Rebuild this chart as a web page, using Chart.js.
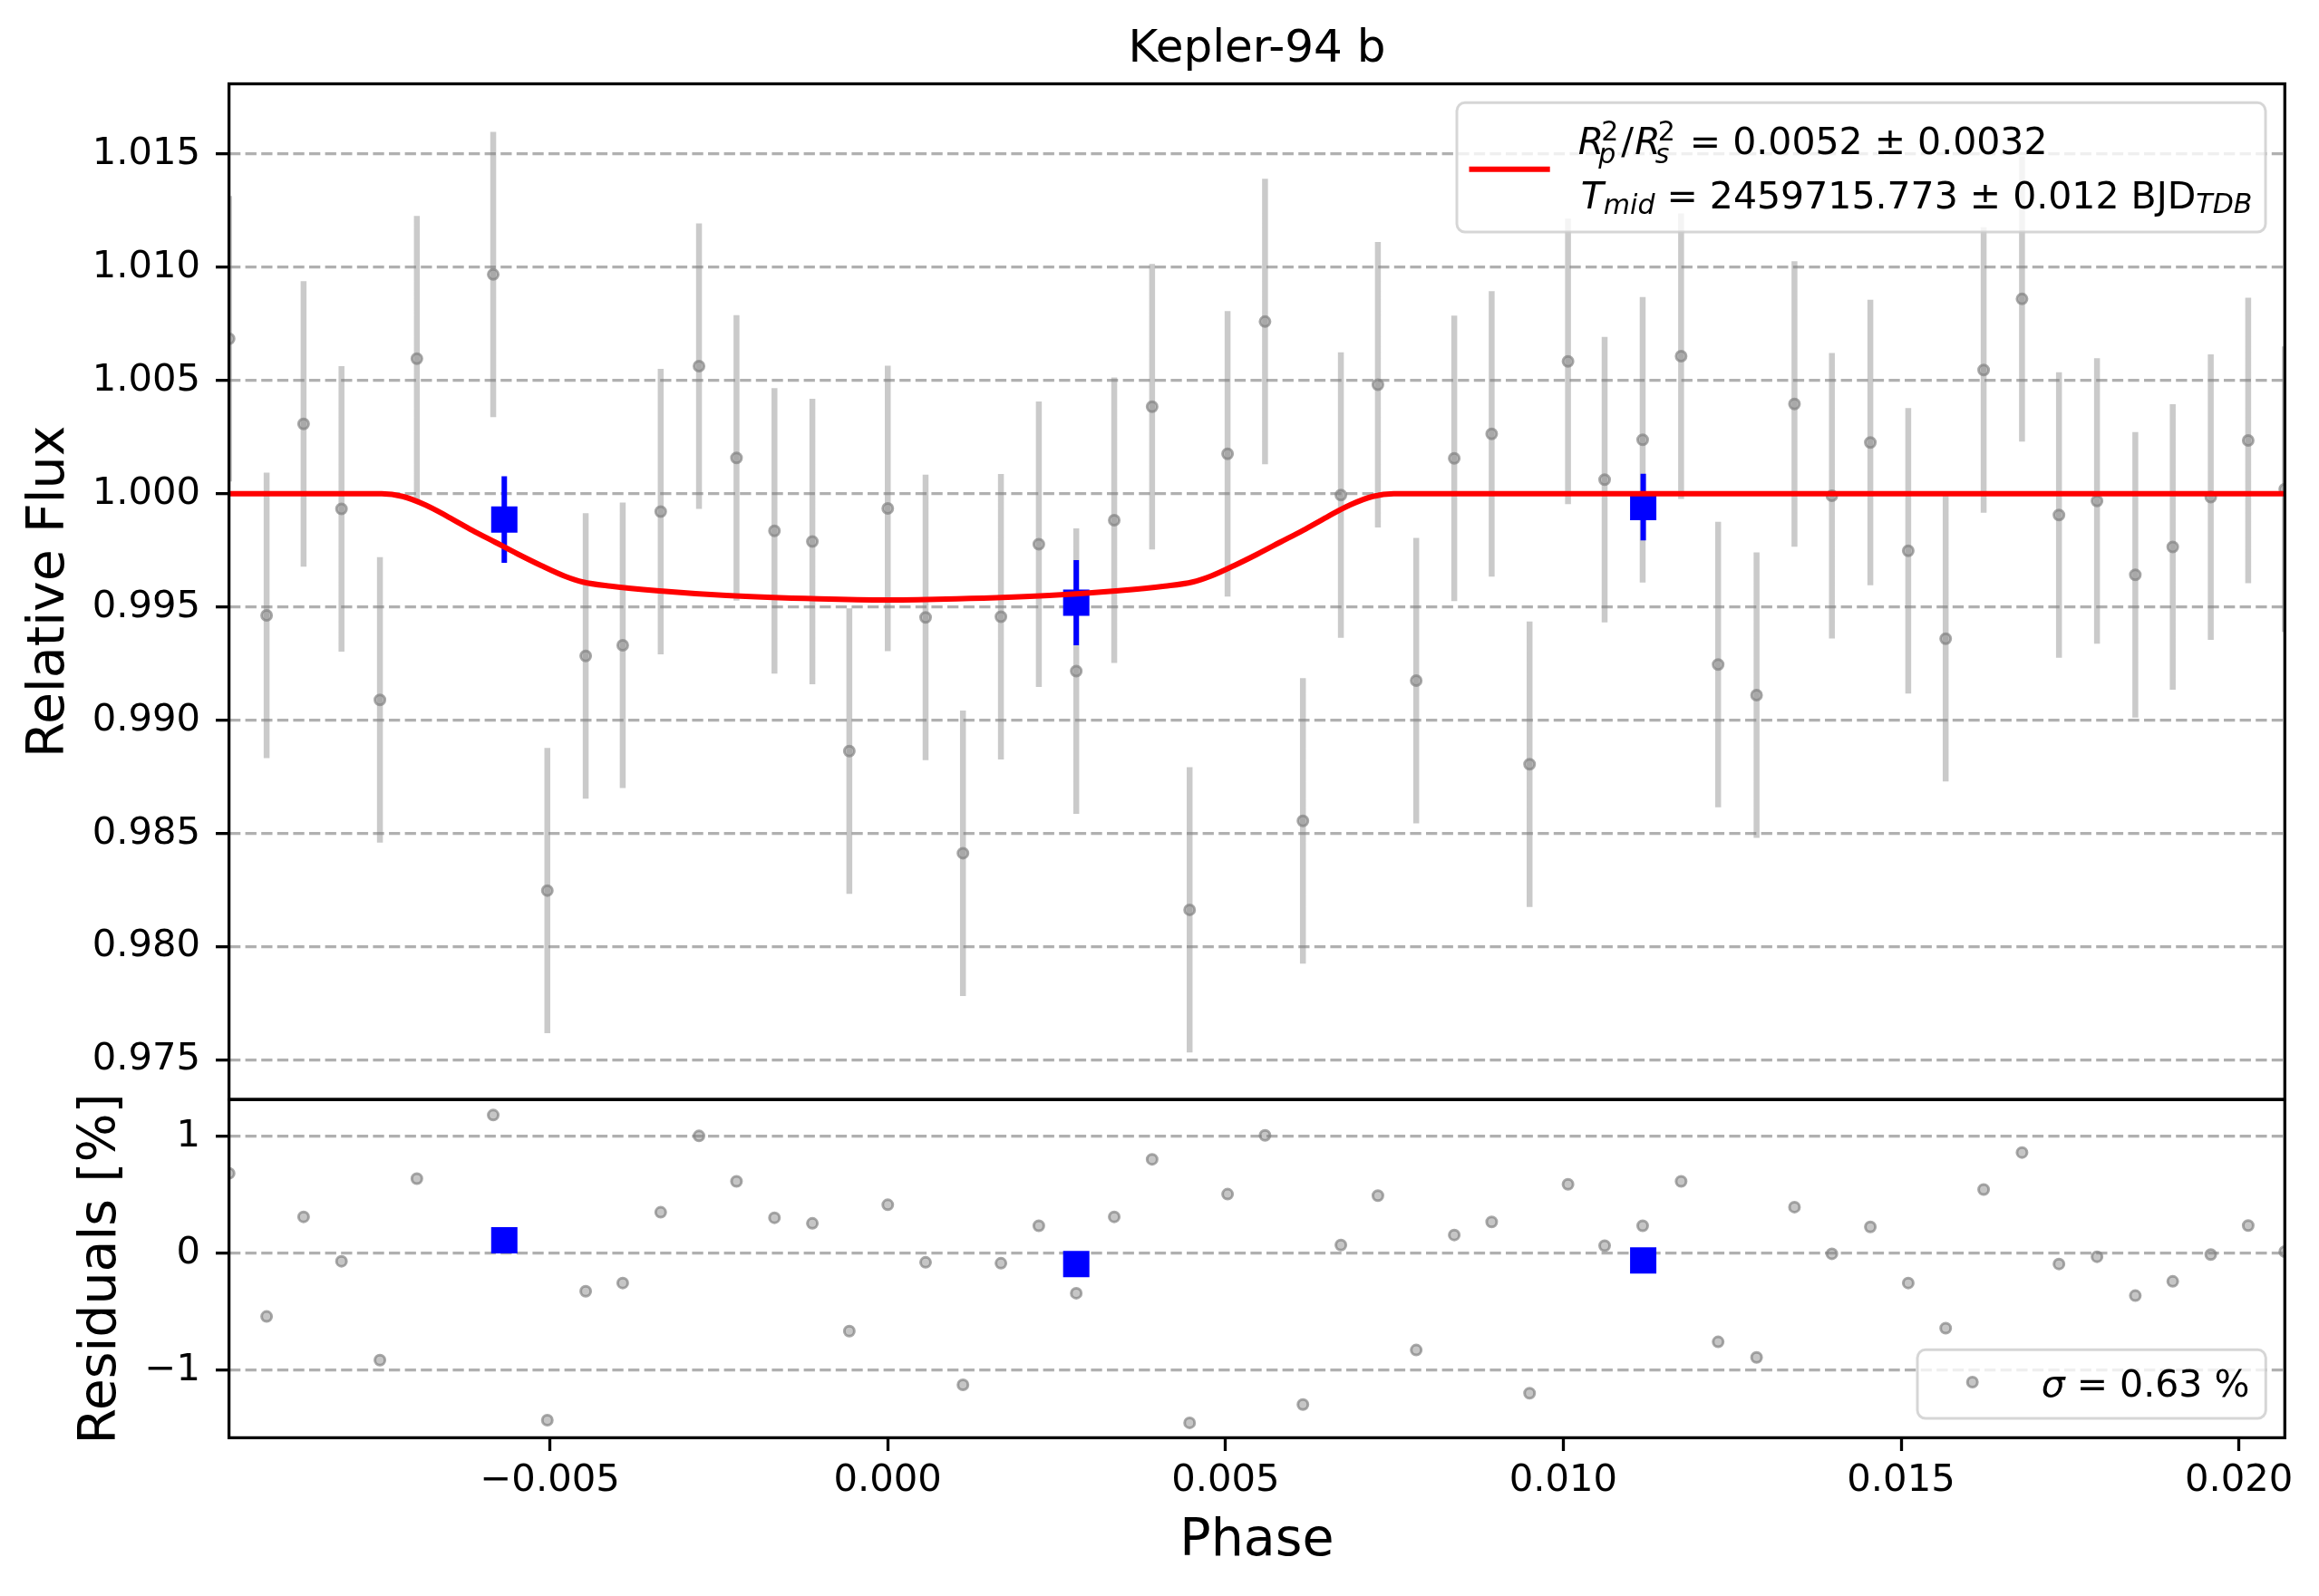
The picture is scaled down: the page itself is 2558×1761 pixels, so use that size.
<html lang="en">

<head>
    <meta charset="UTF-8">
    <title>Kepler-94 b</title>
    <script src="https://cdn.jsdelivr.net/npm/chart.js"></script>
    <style>
        body { margin: 0; background: #fff; }
        #wrap { position: relative; width: 2558px; height: 1761px; }
        .layer { position: absolute; left: 0; top: 0; width: 2558px; height: 1761px; }
    </style>
</head>

<body>
    <div id="wrap">
        <div class="layer"><canvas id="resChart"></canvas></div>
        <div class="layer"><canvas id="fluxChart"></canvas></div>
    </div>
    <script>
        // unbinned points
        const phase = [-0.009748, -0.009193, -0.008646, -0.008085, -0.007516, -0.006969, -0.005839, -0.005038, -0.004470, -0.003922,
            -0.003360, -0.002793, -0.002238, -0.001676, -0.001115, -0.000568, 0.000001, 0.000561, 0.001114, 0.001676,
            0.002237, 0.002791, 0.003353, 0.003914, 0.004469, 0.005031, 0.005585, 0.006146, 0.006708, 0.007256,
            0.007823, 0.008386, 0.008940, 0.009501, 0.010070, 0.010612, 0.011175, 0.011744, 0.012292, 0.012861,
            0.013422, 0.013976, 0.014545, 0.015106, 0.015660, 0.016222, 0.016790, 0.017337, 0.017900, 0.018467,
            0.019021, 0.019584, 0.020138, 0.020679];
        const flux = [1.00684, 0.99463, 1.00308, 0.99933, 0.99090, 1.00596, 1.00968, 0.98248, 0.99284, 0.99331,
            0.99921, 1.00563, 1.00158, 0.99836, 0.99789, 0.98864, 0.99935, 0.99454, 0.98413, 0.99457,
            0.99777, 0.99217, 0.99883, 1.00384, 0.98163, 1.00176, 1.00760, 0.98556, 0.99994, 1.00481,
            0.99175, 1.00156, 1.00264, 0.98806, 1.00584, 1.00062, 1.00238, 1.00607, 0.99246, 0.99111,
            1.00396, 0.99991, 1.00226, 0.99748, 0.99360, 1.00546, 1.00860, 0.99906, 0.99968, 0.99642,
            0.99765, 0.99985, 1.00235, 1.00020];
        const fluxErr = 0.0063;
        const residual = [0.683, -0.541, 0.311, -0.069, -0.914, 0.637, 1.181, -1.428, -0.325, -0.255,
            0.350, 1.003, 0.614, 0.303, 0.255, -0.666, 0.414, -0.078, -1.125, -0.086,
            0.234, -0.342, 0.311, 0.803, -1.450, 0.505, 1.008, -1.294, 0.070, 0.492,
            -0.828, 0.156, 0.267, -1.197, 0.589, 0.064, 0.234, 0.614, -0.758, -0.891,
            0.394, -0.005, 0.225, -0.255, -0.641, 0.545, 0.861, -0.092, -0.030, -0.363,
            -0.241, -0.011, 0.236, 0.014];

        // binned points (blue)
        const binPhase = [-0.005675, 0.002791, 0.011183];
        const binFlux = [0.99886, 0.99519, 0.99941];
        const binErr = [0.00191, 0.00188, 0.00147];
        const binResidual = [0.111, -0.092, -0.061];

        // transit model (red), sampled from the curve
        const modelPhase = [-0.00975, -0.00749, -0.00718, -0.00684, -0.00650, -0.00615, -0.00581, -0.00547, -0.00513, -0.00478,
            -0.00451, -0.00410, -0.00342, -0.00239, -0.00102, 0.00000, 0.00102, 0.00239, 0.00342, 0.00410,
            0.00451, 0.00478, 0.00513, 0.00547, 0.00581, 0.00615, 0.00650, 0.00684, 0.00718, 0.00749, 0.02068];
        const modelFlux = [1.00000, 1.00000, 0.99988, 0.99950, 0.99897, 0.99839, 0.99786, 0.99733, 0.99683, 0.99636,
            0.99610, 0.99592, 0.99572, 0.99551, 0.99536, 0.99531, 0.99536, 0.99551, 0.99572, 0.99592,
            0.99610, 0.99636, 0.99683, 0.99733, 0.99786, 0.99839, 0.99897, 0.99950, 0.99988, 1.00000, 1.00000];

        const phaseTicks = [-0.005, 0.000, 0.005, 0.010, 0.015, 0.020];
        const fluxTicks = [0.975, 0.980, 0.985, 0.990, 0.995, 1.000, 1.005, 1.010, 1.015];
        const resTicks = [-1, 0, 1];

        const X_MIN = -0.00975, X_MAX = 0.02068;
        const DOT_FILL = 'rgba(128,128,128,0.45)';
        const DOT_EDGE = 'rgba(128,128,128,0.68)';
        const DOT_R = 5.5, DOT_W = 3;
        const FONT = '"DejaVu Sans"';

        Chart.defaults.font.family = FONT + ', sans-serif';
        Chart.defaults.color = '#000';

        function points(xs, ys) {
            return xs.map((x, i) => ({ x: x, y: ys[i] }));
        }

        // vertical error bars as one broken line
        function errorSegments(xs, ys, errs) {
            const pts = [];
            xs.forEach((x, i) => {
                const e = Array.isArray(errs) ? errs[i] : errs;
                pts.push({ x: x, y: ys[i] - e }, { x: x, y: ys[i] + e }, { x: x, y: null });
            });
            return pts;
        }

        function minus(s) {
            return s.replace('-', '\u2212');
        }

        function fixedTicks(values) {
            return (scale) => { scale.ticks = values.map(v => ({ value: v })); };
        }

        const tickGrid = { color: '#b0b0b0', lineWidth: 3.3, tickColor: '#000', tickLength: 14.6, tickWidth: 3.3, tickBorderDash: [] };

        const framePlugin = {
            id: 'frame',
            afterDraw(chart) {
                const { ctx, chartArea: a } = chart;
                ctx.save();
                ctx.strokeStyle = '#000';
                ctx.lineWidth = 3.3;
                ctx.strokeRect(a.left, a.top, a.right - a.left, a.bottom - a.top);
                ctx.restore();
            }
        };

        function legendBox(ctx, x, y, w, h) {
            ctx.beginPath();
            ctx.roundRect(x, y, w, h, 9);
            ctx.fillStyle = 'rgba(255,255,255,0.8)';
            ctx.fill();
            ctx.lineWidth = 3;
            ctx.strokeStyle = 'rgba(204,204,204,0.8)';
            ctx.stroke();
        }

        // small mathtext-like writer: italics, sub and superscripts
        function drawMath(ctx, runs, x, y) {
            const big = 41, small = 30;
            runs.forEach(r => {
                if (r.sup !== undefined) {
                    ctx.font = small + 'px ' + FONT;
                    ctx.fillText(r.sup, x + 1, y - 15);
                    const w1 = ctx.measureText(r.sup).width;
                    ctx.font = 'italic ' + small + 'px ' + FONT;
                    ctx.fillText(r.sub, x - 2, y + 10);
                    const w2 = ctx.measureText(r.sub).width;
                    x += Math.max(w1 + 1, w2 - 2) + 3;
                } else {
                    const size = r.small ? small : big;
                    ctx.font = (r.it ? 'italic ' : '') + size + 'px ' + FONT;
                    ctx.fillText(r.t, x, y + (r.dy || 0));
                    x += ctx.measureText(r.t).width + (r.gap || 0);
                }
            });
        }

        const fluxLegend = {
            id: 'fluxLegend',
            afterDatasetsDraw(chart) {
                const ctx = chart.ctx;
                ctx.save();
                legendBox(ctx, 1607, 113.3, 892, 142.7);
                ctx.strokeStyle = '#ff0000';
                ctx.lineWidth = 6;
                ctx.beginPath();
                ctx.moveTo(1620.5, 186.7);
                ctx.lineTo(1709.7, 186.7);
                ctx.stroke();
                ctx.fillStyle = '#000';
                ctx.textBaseline = 'alphabetic';
                ctx.textAlign = 'left';
                drawMath(ctx, [
                    { t: 'R', it: true, gap: -4 }, { sup: '2', sub: 'p' }, { t: '/', gap: 1 },
                    { t: 'R', it: true, gap: -4 }, { sup: '2', sub: 's' }, { t: ' = 0.0052 \u00b1 0.0032' }
                ], 1740.8, 170);
                drawMath(ctx, [
                    { t: 'T', it: true }, { t: 'mid', it: true, small: true, dy: 6 },
                    { t: ' = 2459715.773 \u00b1 0.012 BJD' }, { t: 'TDB', it: true, small: true, dy: 5 }
                ], 1743.8, 230);
                ctx.restore();
            }
        };

        const resLegend = {
            id: 'resLegend',
            afterDatasetsDraw(chart) {
                const ctx = chart.ctx;
                ctx.save();
                legendBox(ctx, 2115, 1489.3, 384.3, 75.7);
                ctx.beginPath();
                ctx.arc(2175.7, 1525, DOT_R, 0, Math.PI * 2);
                ctx.fillStyle = DOT_FILL;
                ctx.fill();
                ctx.lineWidth = DOT_W;
                ctx.strokeStyle = DOT_EDGE;
                ctx.stroke();
                ctx.fillStyle = '#000';
                ctx.font = 'italic 41px ' + FONT;
                ctx.textBaseline = 'alphabetic';
                ctx.fillText('\u03c3', 2251.7, 1540.7);
                const w = ctx.measureText('\u03c3').width;
                ctx.font = '41px ' + FONT;
                ctx.fillText(' = 0.63 %', 2251.7 + w, 1540.7);
                ctx.restore();
            }
        };

        new Chart(document.getElementById('fluxChart'), {
            type: 'scatter',
            data: {
                datasets: [
                    {
                        label: 'model', data: points(modelPhase, modelFlux), showLine: true,
                        borderColor: '#ff0000', borderWidth: 6, pointRadius: 0, cubicInterpolationMode: 'monotone', order: 0
                    },
                    {
                        label: 'binned', data: points(binPhase, binFlux), pointStyle: 'rect', pointRadius: 20.5,
                        pointBackgroundColor: '#0000ff', pointBorderWidth: 0, order: 1
                    },
                    {
                        label: 'binned err', data: errorSegments(binPhase, binFlux, binErr), showLine: true,
                        borderColor: '#0000ff', borderWidth: 6, pointRadius: 0, order: 2
                    },
                    {
                        label: 'data', data: points(phase, flux), pointRadius: DOT_R, pointBorderWidth: DOT_W,
                        pointBackgroundColor: DOT_FILL, pointBorderColor: DOT_EDGE, order: 3
                    },
                    {
                        label: 'data err', data: errorSegments(phase, flux, fluxErr), showLine: true,
                        borderColor: 'rgba(128,128,128,0.42)', borderWidth: 6.5, pointRadius: 0, order: 4
                    }
                ]
            },
            options: {
                responsive: true,
                maintainAspectRatio: false,
                animation: false,
                events: [],
                layout: { padding: { left: 0, top: 0, right: 37.7, bottom: 547.8 } },
                plugins: {
                    legend: { display: false },
                    tooltip: { enabled: false },
                    title: {
                        display: true, text: 'Kepler-94 b', color: '#000', fullSize: false,
                        font: { size: 50, weight: 'normal' }, padding: { top: 25, bottom: 7.5 }
                    }
                },
                scales: {
                    x: { type: 'linear', display: false, min: X_MIN, max: X_MAX },
                    y: {
                        type: 'linear', min: 0.973256, max: 1.018096,
                        afterFit: (s) => { s.width = 252.6; },
                        afterBuildTicks: fixedTicks(fluxTicks),
                        ticks: { font: { size: 41.7 }, color: '#000', padding: 17, callback: (v) => v.toFixed(3) },
                        grid: tickGrid,
                        border: { display: false, dash: [12.3, 5.3] },
                        title: { display: true, text: 'Relative Flux', color: '#000', font: { size: 57 }, padding: { top: 20.6, bottom: 0 } }
                    }
                }
            },
            plugins: [framePlugin, fluxLegend]
        });

        new Chart(document.getElementById('resChart'), {
            type: 'scatter',
            data: {
                datasets: [
                    {
                        label: 'binned', data: points(binPhase, binResidual), pointStyle: 'rect', pointRadius: 20.5,
                        pointBackgroundColor: '#0000ff', pointBorderWidth: 0, order: 0
                    },
                    {
                        label: 'residuals', data: points(phase, residual), pointRadius: DOT_R, pointBorderWidth: DOT_W,
                        pointBackgroundColor: DOT_FILL, pointBorderColor: DOT_EDGE, order: 1
                    }
                ]
            },
            options: {
                responsive: true,
                maintainAspectRatio: false,
                animation: false,
                events: [],
                layout: { padding: { left: 0, top: 1213.2, right: 37.7, bottom: 0 } },
                plugins: { legend: { display: false }, tooltip: { enabled: false } },
                scales: {
                    x: {
                        type: 'linear', min: X_MIN, max: X_MAX,
                        afterFit: (s) => { s.height = 174.6; },
                        afterBuildTicks: fixedTicks(phaseTicks),
                        ticks: {
                            font: { size: 41.7 }, color: '#000', padding: 7.8, autoSkip: false, maxRotation: 0,
                            callback: (v) => minus(v.toFixed(3))
                        },
                        grid: { drawOnChartArea: false, tickColor: '#000', tickLength: 14.6, tickWidth: 3.3 },
                        border: { display: false },
                        title: { display: true, text: 'Phase', color: '#000', font: { size: 57 }, padding: { top: 0, bottom: 25.8 } }
                    },
                    y: {
                        type: 'linear', min: -1.578, max: 1.314,
                        afterFit: (s) => { s.width = 252.6; },
                        afterBuildTicks: fixedTicks(resTicks),
                        ticks: { font: { size: 41.7 }, color: '#000', padding: 17, callback: (v) => minus(String(v)) },
                        grid: tickGrid,
                        border: { display: false, dash: [12.3, 5.3] },
                        title: { display: true, text: 'Residuals [%]', color: '#000', font: { size: 57 }, padding: { top: 78, bottom: 0 } }
                    }
                }
            },
            plugins: [framePlugin, resLegend]
        });
    </script>
</body>

</html>
